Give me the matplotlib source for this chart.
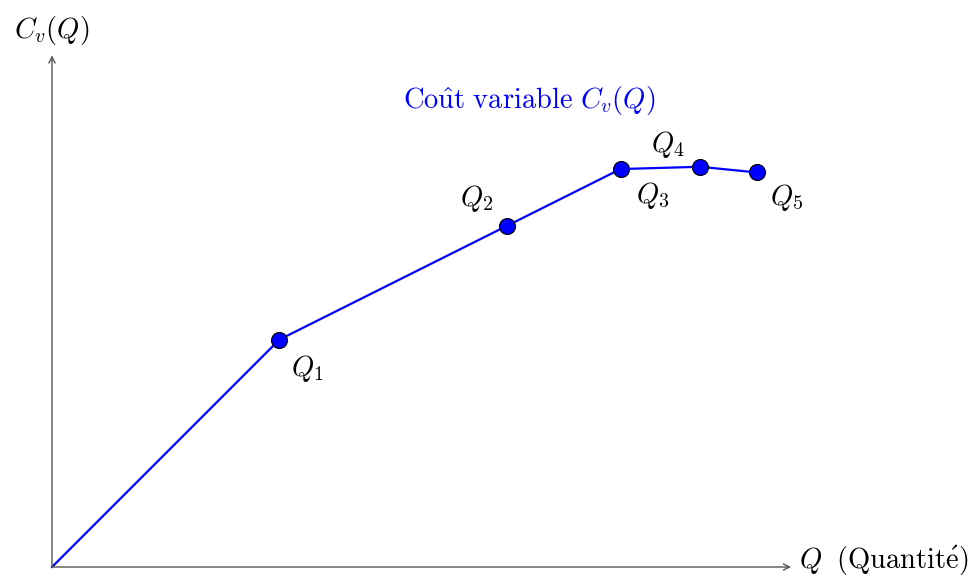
import matplotlib.pyplot as plt

plt.rcParams["mathtext.fontset"] = "cm"

# quantities and variable cost at each level
q_values = [0, 2, 4, 5, 5.7, 6.2]
cost_values = [0, 2, 3, 3.5, 3.52, 3.47]
point_names = ["$Q_1$", "$Q_2$", "$Q_3$", "$Q_4$", "$Q_5$"]
# label offsets from each point (centre of the label)
label_offsets = [
    (0.25, -0.25),
    (-0.26, 0.24),
    (0.28, -0.23),
    (-0.28, 0.20),
    (0.26, -0.22),
]

fig = plt.figure(figsize=(9.79, 5.8), dpi=100)
ax = fig.add_axes([0, 0, 1, 1])
unit = 113.7
ax.set_xlim(-52 / unit, (979 - 52) / unit)
ax.set_ylim(-(580 - 567) / unit, 567 / unit)
ax.axis("off")

axis_color = "#555555"
arrow = dict(arrowstyle="->", color=axis_color, lw=1.0, mutation_scale=11,
             shrinkA=0, shrinkB=0)
ax.annotate("", xy=(6.5, 0), xytext=(0, 0), arrowprops=arrow)
ax.annotate("", xy=(0, 4.5), xytext=(0, 0), arrowprops=arrow)

fs = 20.5
ax.text(0, 4.72, "$C_v(Q)$", fontsize=fs, ha="center", va="center")
# axis label sits on the arrow tip, nudged up so it stays inside the figure
ax.text(6.57, 0.05, r"$Q\ \;\mathrm{(Quantit\acute{e})}$", fontsize=fs,
        ha="left", va="center")

ax.plot(q_values, cost_values, color="blue", lw=1.6, zorder=2)
ax.plot(q_values[1:], cost_values[1:], "o", color="blue", markersize=11.5,
        markeredgecolor="black", markeredgewidth=0.8, zorder=3)

for x, y, name, (dx, dy) in zip(q_values[1:], cost_values[1:],
                                point_names, label_offsets):
    ax.text(x + dx, y + dy, name, fontsize=fs, ha="center", va="center")

ax.text(4.2, 4.1, r"$\mathrm{Co\hat{u}t\ variable}\ C_v(Q)$", fontsize=fs,
        color="blue", ha="center", va="center")

fig.savefig("out.png", dpi=100)
